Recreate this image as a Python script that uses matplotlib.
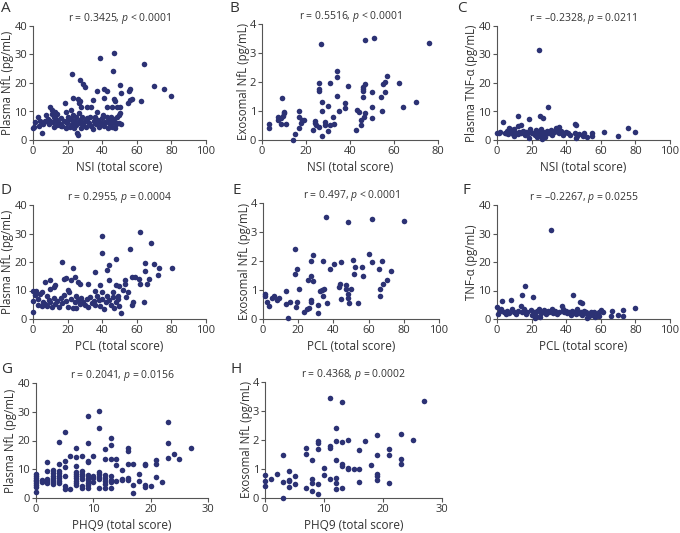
import matplotlib
matplotlib.use('Agg')
import matplotlib.pyplot as plt

plt.rcParams['font.family'] = ['Open Sans', 'DejaVu Sans']
plt.rcParams['mathtext.fontset'] = 'custom'
plt.rcParams['mathtext.it'] = 'Open Sans:italic'
plt.rcParams['mathtext.rm'] = 'Open Sans'

DOT = '#2c3274'
TXT = '#333333'

# A: NSI vs plasma NfL
a_pts = [(22.8, 23.2), (27.1, 21.1), (29, 19.6), (30.2, 18.5), (38.7, 28.7), (46.8, 30.6), (46, 24.3),
         (64.2, 26.7), (70, 19.1), (75.8, 17.8), (80, 15.3), (50.1, 19.4), (50.7, 16.4), (55.9, 17.8),
         (55.3, 17.3), (42.6, 17.3), (41, 17.8), (37.1, 17.3), (23.2, 14.6), (26, 14.3), (27.1, 13.6),
         (31.3, 11.7), (34.4, 14), (41, 14.6), (46.8, 14.3), (47.4, 13.8), (42.9, 11.7), (45.5, 11.7),
         (48.4, 11.7), (50.3, 11.7), (54.7, 13.1), (56.1, 14), (57, 14.3), (62.3, 13.8), (18.4, 13.1),
         (26.5, 12.9), (37.1, 9.9), (33.5, 11.7), (27.5, 11.5), (48.4, 8.2), (49.5, 8.7), (50.3, 9.4),
         (0, 4.1), (0.6, 4.7), (2.9, 8.2), (3.3, 4.9), (5.2, 2.3), (6, 5.6), (7, 6.5), (7.7, 8.7),
         (8.9, 7.4), (9.3, 5.5), (10, 11.7), (10.8, 10.5), (11.2, 9), (12, 8), (11.8, 6.2), (12.8, 9.8),
         (13.2, 7.3), (13.7, 5.3), (14.7, 6.3), (15.5, 5.6), (16.4, 7.6), (17, 4.9), (17.8, 6.8),
         (18.8, 4.3), (19.3, 9.9), (19.9, 6.1), (20.5, 8.2), (21.3, 4.7), (21.9, 7.3), (22.4, 5.6),
         (23, 8.8), (23.6, 4.1), (24.2, 6.8), (24.8, 5.3), (25.1, 8), (25.5, 2.6), (26.1, 1.9),
         (25.9, 5.8), (26.5, 9.4), (27.1, 7), (27.7, 4.1), (28.2, 8.2), (29, 5.6), (29.8, 6.8),
         (30.6, 4.7), (31.3, 7.6), (32.1, 5.8), (32.9, 8.2), (33.7, 4.9), (34.4, 4), (35, 6.8),
         (35.8, 8), (36.6, 5.6), (37.5, 7), (38.3, 4.7), (39.1, 6.1), (39.8, 7.6), (40.6, 8.8),
         (41.2, 4.9), (41.8, 6.4), (42.6, 8.2), (43.3, 4.1), (43.9, 7), (44.5, 5.8), (45.3, 8),
         (45.8, 4.7), (46.4, 6.4), (47.2, 4.1), (48, 5.6), (48.7, 6.1), (49.9, 5.8), (50.7, 5.6),
         (1, 6.4), (3.9, 6.8), (7.7, 6.8), (9.7, 6.8), (14, 9), (16, 5), (20, 7), (28, 6),
         (31, 6.5), (36, 6), (40, 5.5), (44, 6), (47, 7.2), (22, 10.4), (12, 4.6)]
a_x = [p[0] for p in a_pts]
a_y = [p[1] for p in a_pts]

# B: NSI vs exosomal NfL
b_pts = [(3, 0.55), (3, 0.4), (7.1, 0.78), (7.1, 0.69), (9, 1.44), (8.6, 0.75), (9.4, 0.83),
         (9.9, 0.92), (10.2, 0.98), (8.6, 0.55), (10.9, 0.55), (14, 0), (15.2, 0.21), (17, 1.01),
         (17, 0.78), (17, 0.4), (17.8, 0.6), (18.4, 0.69), (19.1, 0.69), (23.1, 0.34), (24.1, 0.67),
         (24.1, 0.57), (24.7, 0.52), (25.8, 0.46), (26.1, 1.95), (26.1, 1.75), (26.1, 1.7),
         (26.9, 3.31), (27.2, 1.32), (27.2, 1.01), (27.2, 0.15), (28.8, 0.63), (28.8, 0.52),
         (30.2, 1.17), (30.2, 0.31), (31, 1.95), (31.1, 0.52), (32.2, 0.78), (32.9, 0.55),
         (34, 2.39), (34, 2.16), (34, 1.53), (35.2, 1), (37.8, 1.29), (37.8, 1.09), (39, 1.86),
         (42.8, 0.34), (43.1, 1.03), (44, 0.98), (45.1, 0.52), (45.1, 0.69), (45.8, 1.75),
         (45.8, 1.7), (46.1, 1.47), (45.8, 1.82), (46.6, 1.93), (46.3, 0.8), (46.9, 0.92),
         (47, 3.45), (49.9, 1.67), (50.1, 1.13), (50.1, 0.75), (50.8, 3.5), (53.9, 1.49),
         (54.5, 1), (55, 1.93), (55.7, 2.01), (56, 1.64), (56.9, 2.21), (62.1, 1.98), (64.2, 1.15),
         (70.1, 1.32), (75.9, 3.36)]
b_x = [p[0] for p in b_pts]
b_y = [p[1] for p in b_pts]

# C: NSI vs plasma TNF-a
c_pts = [(0, 2.6), (3.5, 6.4), (12.4, 8.4), (18.5, 7.3), (24.3, 31.6), (24.7, 8.5), (26.6, 7.6),
         (29.2, 11.7), (18.5, 0.6), (4.6, 2.3), (6, 3.3), (7, 4.1), (8, 2.9), (9, 2.1), (10, 3.7),
         (11, 2.6), (12, 2), (13, 2.9), (14, 2.3), (15, 3.3), (16, 1.7), (17, 2.9), (18, 2.3),
         (21, 2.6), (22, 1.7), (22.5, 3.5), (23, 0.9), (23.5, 2.3), (24, 2.9), (25, 1.4),
         (25.5, 3.7), (26.6, 2.9), (27, 2.1), (27.5, 1.2), (28, 2.6), (29, 3.3), (29.5, 2.3),
         (30, 2.6), (31, 3.5), (32, 1.7), (33, 2.9), (34, 4.1), (35, 2.9), (36, 2.3), (37, 3.3),
         (38, 1.7), (39, 2.6), (40, 2.9), (41, 2.3), (42, 1.7), (45, 5.6), (45.5, 5.3), (45, 2.3),
         (45.5, 0.6), (46, 1.4), (47.5, 2.1), (49.5, 1.4), (50.5, 2.6), (52, 1.2), (55, 2.6),
         (55, 1.4), (62, 2.9), (70, 1.4), (76, 4.1), (80, 2.9), (1, 2.6), (2, 2.9), (5, 2.6),
         (6.5, 2), (7.5, 3.7), (10, 1.4), (12, 4.8), (14, 5.1), (36, 4.4), (26, 0.4), (19, 3.8),
         (20, 2.4)]
c_x = [p[0] for p in c_pts]
c_y = [p[1] for p in c_pts]

# D: PCL vs plasma NfL
d_pts = [(16.5, 19.9), (23, 17.8), (40, 29), (40, 23.3), (36, 16.6), (43, 17.3), (44, 18.8),
         (48, 21), (56, 24.5), (62, 30.7), (68, 26.8), (65, 19.5), (65, 16.9), (70, 19.3),
         (72, 15.4), (73, 17.9), (80.5, 17.9), (57, 14.8), (59, 14.7), (61, 14.1), (62, 12.3),
         (64, 6), (66, 12.3), (67, 14), (53, 13.8), (53, 12.4), (50, 11.5), (48, 11.8), (44, 13.8),
         (39, 12), (32, 12.3), (27, 12.4), (26, 13), (24, 14.8), (19, 14.5), (18, 14), (22, 13.6),
         (10, 13.6), (7, 12.9), (13, 12), (10, 10.7), (12, 11.2), (55, 9.4), (54, 7.6), (52, 10.2),
         (57, 4.8), (58, 5.9), (51, 2.2), (0, 2.3), (0, 6.4), (0, 9.8), (1, 8.5), (2, 9.8), (3, 7),
         (3, 5), (4, 8.9), (5, 4.6), (6, 6.1), (7, 5.3), (8, 8.2), (8, 4.6), (9, 6.6), (10, 5.8),
         (11, 4.2), (12, 7.2), (13, 5.3), (14, 6.4), (15, 4.1), (16, 7.5), (17, 5.5), (18, 8.5),
         (19, 6.2), (20, 4.1), (21, 9.6), (22, 7), (23, 3.9), (24, 5.8), (25, 8.2), (25, 3.8),
         (26, 6.6), (27, 5.1), (28, 7.5), (29, 6), (30, 4.9), (31, 6.9), (32, 4.3), (33, 7.7),
         (34, 5.6), (35, 6.2), (36, 4.9), (37, 8.2), (38, 6.5), (39, 4.4), (40, 7), (41, 3.5),
         (42, 5.8), (43, 8.2), (44, 6.6), (45, 4.9), (46, 7.7), (47, 3.8), (48, 5.8), (49, 6.9),
         (50, 4.4), (46, 9.4), (49, 8.2), (36, 9.8), (40, 9.5), (20, 10.1), (5, 9.5)]
d_x = [p[0] for p in d_pts]
d_y = [p[1] for p in d_pts]

# E: PCL vs exosomal NfL
e_pts = [(1.3, 0.86), (1.3, 0.8), (2.3, 0.59), (3.3, 0.45), (5.1, 0.73), (6.2, 0.8), (8.2, 0.67),
         (9.1, 0.73), (13.3, 0.97), (13.3, 0.51), (14.2, 0.02), (15.2, 0.59), (18.1, 2.43),
         (18.1, 1.54), (18.5, 0.42), (19.3, 1.73), (19.3, 0.57), (20.3, 1.05), (23.2, 0.25),
         (25.1, 0.33), (25.3, 1.34), (26, 0.37), (27.1, 1.99), (27.1, 1.47), (27.1, 0.67),
         (27.1, 0.59), (28.4, 2.19), (28.4, 1.31), (31.3, 0.19), (31.3, 0.5), (32.3, 0.97),
         (33.8, 0.99), (34.2, 0.8), (34.2, 1.99), (34.7, 1.05), (36, 3.52), (36.4, 0.56),
         (38.3, 1.73), (40.3, 1.89), (43.1, 1.11), (44, 1.19), (44.2, 1.95), (44.6, 0.69),
         (47.1, 1.17), (47.1, 1.03), (48.1, 0.85), (48.1, 0.71), (48.4, 3.34), (49, 0.56),
         (50.2, 1.05), (51.2, 2.03), (51.6, 1.54), (52.2, 1.79), (54.1, 0.56), (56.4, 1.81),
         (57.1, 1.5), (60.4, 2.24), (62.1, 3.46), (62.1, 1.97), (66, 1.73), (66.2, 1.03),
         (66.2, 0.78), (67.4, 2.01), (67.9, 1.19), (70.3, 1.36), (73, 1.66), (80.2, 3.37)]
e_x = [p[0] for p in e_pts]
e_y = [p[1] for p in e_pts]

# F: PCL vs TNF-a
f_pts = [(0, 4.1), (3, 6.4), (8, 6.8), (14.7, 8.4), (16, 11.7), (20.8, 7.6), (31, 31.3), (44, 8.5),
         (47.9, 5.8), (49, 5.6), (80, 3.9), (72.6, 3.2), (69.7, 1.4), (73, 0.9), (66.4, 2.9),
         (65.8, 1.2), (61, 2.6), (60.2, 3), (0.8, 1.8), (1.5, 2.9), (2.1, 3.5), (4.1, 2.3), (5, 1.8),
         (6, 2.9), (6.9, 2.1), (8.5, 3.5), (9.8, 2.3), (10.8, 1.8), (12.4, 2.9), (13.7, 4.4),
         (14.7, 2.3), (15.6, 3.5), (16.6, 1.8), (17.6, 2.6), (19.5, 3.3), (20.1, 1.4), (21.4, 2.3),
         (22.4, 1.2), (23.4, 2.9), (24.3, 3.5), (25.3, 2.1), (26.3, 2.6), (27.2, 3.3), (28.2, 1.8),
         (29.2, 2.9), (30.1, 2.3), (31.7, 3.5), (32.4, 2.1), (33.6, 2.9), (34.9, 1.8), (35.9, 2.6),
         (37.5, 4.4), (38.2, 3.5), (38.8, 2.3), (39.8, 2.9), (40.7, 2.1), (41.7, 2.6), (42.7, 1.4),
         (43.6, 2.9), (44.6, 2.3), (45.6, 1.8), (46.5, 3.5), (47.5, 2.1), (48.5, 2.6), (49.4, 1.4),
         (50.4, 2.9), (51.4, 2.3), (52.3, 1.8), (53.3, 0.9), (54.2, 2.6), (55.2, 1.4), (56.2, 2.3),
         (56.8, 0.6), (58.1, 1.8), (59.1, 1.2), (58.7, 2.6), (22, 0.5), (25, 0.6), (52, 0.3)]
f_x = [p[0] for p in f_pts]
f_y = [p[1] for p in f_pts]

# G: PHQ9 vs plasma NfL
g_pts = [(0, 2.1), (0, 3.8), (0, 4.5), (0, 5.2), (0, 5.8), (0, 6.4), (0, 7), (0, 7.6), (0, 8.3),
         (1, 5.6), (1, 6.2), (2, 12.4), (2, 9.3), (2, 5.2), (2, 6), (2, 6.6),
         (3, 9.8), (3, 8.7), (3, 7.8), (3, 7), (3, 6.4), (3, 5.6), (3, 4.9),
         (4, 19.6), (4, 11.8), (4, 9.5), (4, 8.6), (4, 7.6), (4, 6.8), (4, 5.9), (4, 5.2),
         (5, 22.9), (5, 13), (5, 10.8), (5, 7.5), (5, 4.1), (5, 3.3), (6, 14.6), (6, 3.3),
         (7, 17.5), (7, 14.3), (7, 11), (7, 9.2), (7, 8.5), (7, 7.6), (7, 6.8), (7, 5.9), (7, 5.1),
         (7, 4.4), (8, 14.6), (8, 9.3), (8, 8.4), (8, 7.5), (8, 6.5), (8, 4.3), (8, 3.5),
         (9, 28.6), (9, 19), (9, 13), (9, 12.6), (9, 8), (9, 7.1), (9, 6.2), (9, 5.3), (9, 4.5),
         (9, 3.4), (10, 14.6), (10, 7.5), (10, 6.8), (10, 5.6),
         (11, 30.3), (11, 24.3), (11, 9.2), (11, 8.3), (11, 7.4), (11, 6.5), (11, 3.6),
         (12, 16.9), (12, 13.6), (12, 8.1), (12, 7.1), (12, 6), (12, 5), (12, 3.5),
         (13, 20.8), (13, 18.3), (13, 13.6), (13, 7.5), (13, 6.4), (13, 5.6), (13, 3.5),
         (14, 13.6), (14, 11.5), (14, 6), (15, 9.8), (15, 6.5), (15, 6.1),
         (16, 17.5), (16, 16.5), (16, 12), (16, 7), (16, 6.2), (17, 12), (17, 4.6), (17, 1.9),
         (18, 8.3), (18, 5.8), (19, 11.8), (19, 11.5), (19, 4.5), (19, 3.9), (20, 4.3),
         (21, 13.2), (21, 12), (21, 7.2), (22, 5.5), (23, 26.4), (23, 19), (23, 13.9),
         (24, 15.2), (25, 13.6), (27, 17.5)]
g_x = [p[0] for p in g_pts]
g_y = [p[1] for p in g_pts]

# H: PHQ9 vs exosomal NfL
h_pts = [(0, 0.78), (0, 0.57), (0, 0.43), (1, 0.67), (2, 0.83), (3, 1.47), (3, 0.55), (3, 0),
         (4, 0.93), (4, 0.62), (4, 0.57), (4, 0.38), (5, 0.75), (5, 0.48), (7, 1.72), (7, 1.52),
         (7, 0.33), (8, 1.32), (8, 0.67), (8, 0.52), (8, 0.25), (9, 1.97), (9, 1.88), (9, 1.68),
         (9, 0.48), (9, 0.15), (10, 1.03), (10, 0.78), (11, 3.45), (11, 1.78), (11, 1.74),
         (11, 0.65), (12, 2.42), (12, 1.96), (12, 1.3), (12, 0.7), (12, 0.52), (12, 0.32),
         (13, 3.3), (13, 1.92), (13, 1.18), (13, 1.1), (13, 0.33), (14, 2.01), (14, 1.03),
         (14, 1), (15, 1), (16, 1.64), (16, 1.01), (16, 0.55), (17, 1.96), (18, 1.13), (19, 2.16),
         (19, 1.47), (19, 0.83), (19, 0.75), (19, 0.63), (21, 1.7), (21, 1.5), (21, 0.52),
         (23, 2.2), (23, 1.34), (23, 1.18), (25, 2), (27, 3.36)]
h_x = [p[0] for p in h_pts]
h_y = [p[1] for p in h_pts]

W, H = 680, 533
fig = plt.figure(figsize=(6.8, 5.33), dpi=100)


def panel(px_left, px_top, px_w, px_h, xs, ys, xmax, xstep, ymax, ystep,
          xlab, ylab, title, letter, lx, ly):
    ax = fig.add_axes([px_left / W, (H - px_top - px_h) / H, px_w / W, px_h / H])
    ax.scatter(xs, ys, s=16, color=DOT, linewidths=0, clip_on=False, zorder=3)
    ax.set_xlim(0, xmax)
    ax.set_ylim(0, ymax)
    ax.set_xticks(range(0, xmax + 1, xstep))
    ax.set_yticks(range(0, ymax + 1, ystep))
    for s in ['top', 'right']:
        ax.spines[s].set_visible(False)
    for s in ['left', 'bottom']:
        ax.spines[s].set_color('#555555')
        ax.spines[s].set_linewidth(0.8)
    ax.tick_params(length=3, width=0.8, color='#555555', labelsize=8,
                   labelcolor=TXT, pad=1.2)
    ax.set_xlabel(xlab, fontsize=8.5, color=TXT, labelpad=3)
    ax.set_ylabel(ylab, fontsize=8.3, color=TXT, labelpad=0)
    ax.set_title(title, fontsize=7.5, color=TXT, pad=2)
    fig.text(lx / W, 1 - ly / H, letter, fontsize=11, color=TXT, va='top', ha='left')
    return ax


panel(33, 26, 173, 114, a_x, a_y, 100, 20, 40, 10, 'NSI (total score)',
      'Plasma NfL (pg/mL)', r'r = 0.3425, $p$ < 0.0001', 'A', 1, 1)
panel(262, 24, 176, 116, b_x, b_y, 80, 20, 4, 1, 'NSI (total score)',
      'Exosomal NfL (pg/mL)', r'r = 0.5516, $p$ < 0.0001', 'B', 229, 1)
panel(497, 26, 173, 114, c_x, c_y, 100, 20, 40, 10, 'NSI (total score)',
      'Plasma TNF-α (pg/mL)', r'r = –0.2328, $p$ = 0.0211', 'C', 457, 1)
panel(33, 205, 173, 114, d_x, d_y, 100, 20, 40, 10, 'PCL (total score)',
      'Plasma NfL (pg/mL)', r'r = 0.2955, $p$ = 0.0004', 'D', 1, 183)
panel(263, 203, 176, 116, e_x, e_y, 100, 20, 4, 1, 'PCL (total score)',
      'Exosomal NfL (pg/mL)', r'r = 0.497, $p$ < 0.0001', 'E', 232, 183)
panel(497, 205, 173, 114, f_x, f_y, 100, 20, 40, 10, 'PCL (total score)',
      'TNF-α (pg/mL)', r'r = –0.2267, $p$ = 0.0255', 'F', 462, 183)
panel(36, 383, 172, 115, g_x, g_y, 30, 10, 40, 10, 'PHQ9 (total score)',
      'Plasma NfL (pg/mL)', r'r = 0.2041, $p$ = 0.0156', 'G', 1, 362)
panel(265, 382, 177, 116, h_x, h_y, 30, 10, 4, 1, 'PHQ9 (total score)',
      'Exosomal NfL (pg/mL)', r'r = 0.4368, $p$ = 0.0002', 'H', 230, 362)

fig.savefig('out.png', dpi=100)
